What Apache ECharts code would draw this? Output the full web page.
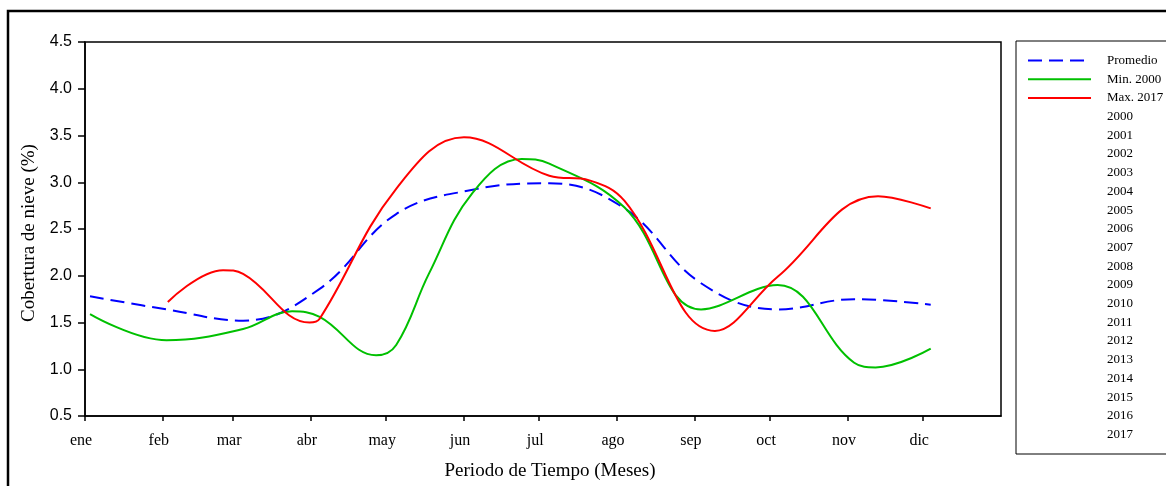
<!DOCTYPE html>
<html>
<head>
<meta charset="utf-8">
<script src="https://cdn.jsdelivr.net/npm/echarts@6/dist/echarts.min.js"></script>
<style>
html,body{margin:0;padding:0;background:#fff;}
#chart{width:1166px;height:486px;}
</style>
</head>
<body>
<div id="chart"></div>
<script>
// Day of year / value pairs (monthly points plus visible turning points)
const promedioDays = [2, 32.5, 63, 93.5, 124, 154.5, 185, 215, 245.5, 276, 306.5, 337];
const promedioVals = [1.78, 1.64, 1.52, 1.86, 2.66, 2.92, 2.99, 2.72, 1.92, 1.64, 1.75, 1.69];
const min2000Days  = [2, 32.5, 63, 82.5, 93.5, 116, 124, 137, 154.5, 174, 185, 215, 245.5, 276, 306.5, 315, 337];
const min2000Vals  = [1.59, 1.31, 1.43, 1.62, 1.56, 1.15, 1.26, 2.02, 2.89, 3.25, 3.20, 2.73, 1.64, 1.90, 1.07, 1.02, 1.22];
const max2017Days  = [33, 55, 63, 89.5, 93.5, 124, 151, 185, 201, 215, 251, 276, 316, 337];
const max2017Vals  = [1.72, 2.06, 2.02, 1.50, 1.54, 2.93, 3.48, 3.07, 3.02, 2.80, 1.41, 1.99, 2.85, 2.72];
const yearNames = ['2000','2001','2002','2003','2004','2005','2006','2007','2008','2009','2010','2011','2012','2013','2014','2015','2016','2017'];
const monthStarts = [0,31,59,90,120,151,181,212,243,273,304,334];
const monthLabels = ['ene','feb','mar','abr','may','jun','jul','ago','sep','oct','nov','dic'];

const serif = 'Liberation Serif';
const sans = 'Liberation Sans';
const SMOOTH = 0.4;

function pairs(ds, vs){ return ds.map((d,i)=>[d, vs[i]]); }

const mainSeries = [
  {name:'Promedio', type:'line', data:pairs(promedioDays, promedioVals), smooth:SMOOTH, symbol:'none',
   lineStyle:{color:'#0000ff', width:2, type:[14,7]}, itemStyle:{color:'#0000ff'}},
  {name:'Min. 2000', type:'line', data:pairs(min2000Days, min2000Vals), smooth:SMOOTH, symbol:'none',
   lineStyle:{color:'#00c000', width:2}, itemStyle:{color:'#00c000'}},
  {name:'Max. 2017', type:'line', data:pairs(max2017Days, max2017Vals), smooth:SMOOTH, symbol:'none',
   lineStyle:{color:'#ff0000', width:2}, itemStyle:{color:'#ff0000'}}
];
const yearSeries = yearNames.map(n=>({name:n, type:'line', data:[], symbol:'none',
   lineStyle:{opacity:0, color:'#fff'}, itemStyle:{opacity:0, color:'#fff'}}));

const legendData = mainSeries.map(s=>({name:s.name, itemStyle:{opacity:0}})).concat(
  yearNames.map(n=>({name:n, itemStyle:{opacity:0}, lineStyle:{opacity:0}})));

const chart = echarts.init(document.getElementById('chart'), null, {renderer:'canvas'});
chart.setOption({
  animation:false,
  backgroundColor:'#fff',
  graphic:[{type:'rect', shape:{x:8, y:11, width:1300, height:700},
    style:{fill:'none', stroke:'#000', lineWidth:2.5}, silent:true, z:100}],
  grid:{left:85, right:165, top:42, bottom:64, show:true, borderColor:'#000', borderWidth:1.5, backgroundColor:'transparent'},
  legend:{
    orient:'vertical', left:1016, top:41,
    padding:[13,10,13,11],
    borderColor:'#000', borderWidth:1,
    itemWidth:63, itemHeight:12, itemGap:5.7,
    itemStyle:{opacity:0},
    textStyle:{fontFamily:serif, fontSize:13, color:'#000', lineHeight:12, padding:[0,0,0,11]},
    data:legendData,
    selectedMode:false
  },
  xAxis:{
    type:'value', min:0, max:365,
    name:'Periodo de Tiempo (Meses)', nameLocation:'middle', nameGap:46,
    nameTextStyle:{fontFamily:serif, fontSize:19, color:'#000', padding:[0,0,0,14]},
    axisLine:{show:true, lineStyle:{color:'#000', width:1.5}},
    axisTick:{show:true, customValues:monthStarts, length:5, lineStyle:{color:'#000', width:1.5}},
    axisLabel:{customValues:monthStarts, formatter:v=>monthLabels[monthStarts.indexOf(v)],
      fontFamily:serif, fontSize:16, color:'#000', margin:17, padding:[0,8,0,0]},
    splitLine:{show:false}
  },
  yAxis:{
    type:'value', min:0.5, max:4.5, interval:0.5,
    name:'Cobertura de nieve (%)', nameLocation:'middle', nameGap:46,
    nameTextStyle:{fontFamily:serif, fontSize:19, color:'#000', padding:[0,8,0,0]},
    axisLine:{show:true, lineStyle:{color:'#000', width:1.5}},
    axisTick:{show:true, length:7, lineStyle:{color:'#000', width:1.5}},
    axisLabel:{formatter:v=>v.toFixed(1), fontFamily:sans, fontSize:16, color:'#000', margin:13},
    splitLine:{show:false}
  },
  series: mainSeries.concat(yearSeries)
});
</script>
</body>
</html>
